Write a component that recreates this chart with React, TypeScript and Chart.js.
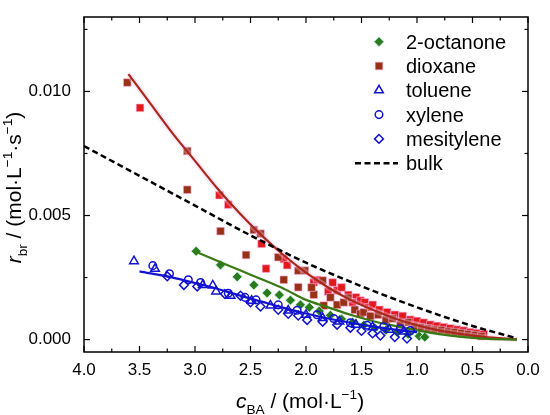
import React, { useEffect, useRef } from "react";
import { Chart, registerables } from "chart.js";
import { drawPoint } from "chart.js/helpers";

Chart.register(...registerables);

// c_BA (mol/L), r_br (mol/L/s)
const dioxaneBrown: [number, number][] = [
  [3.61, 0.01036], [3.07, 0.0076], [3.07, 0.00604], [2.77, 0.00437], [2.47, 0.00442],
  [2.41, 0.00427], [2.54, 0.00341], [2.25, 0.00332], [2.2, 0.00241], [2.07, 0.00278],
  [2.01, 0.00278], [2.07, 0.00211], [1.85, 0.00238], [1.93, 0.00181], [1.84, 0.00137],
  [1.62, 0.00168], [1.95, 0.0021], [1.78, 0.0017], [1.72, 0.0014], [1.66, 0.0015],
  [1.56, 0.0012], [1.51, 0.00104], [1.48, 0.0011], [1.42, 0.00095], [1.35, 0.001],
  [1.28, 0.0008], [1.22, 0.00085], [1.15, 0.0006], [1.08, 0.0007], [1.02, 0.00055],
  [0.96, 0.0005], [0.9, 0.00045], [0.84, 0.0004], [0.78, 0.00038], [0.72, 0.00032],
  [0.66, 0.0003], [0.6, 0.00026], [0.54, 0.00022], [0.48, 0.00018], [0.42, 0.00014],
];
const dioxaneRed: [number, number][] = [
  [3.495, 0.00934], [2.78, 0.00582], [2.7, 0.00544], [2.4, 0.00386], [2.36, 0.00286],
  [2.2, 0.00325], [2.17, 0.003], [1.93, 0.00231], [1.8, 0.00194], [1.72, 0.00198],
  [1.9, 0.0024], [1.76, 0.0023], [1.68, 0.0021], [1.62, 0.0018], [1.55, 0.0017],
  [1.58, 0.0015], [1.51, 0.00157], [1.47, 0.0015], [1.44, 0.0013], [1.4, 0.0014],
  [1.34, 0.0012], [1.27, 0.0011], [1.2, 0.001], [1.13, 0.00095], [1.06, 0.0008],
  [1.0, 0.00075], [0.94, 0.00068], [0.88, 0.0006], [0.82, 0.00055], [0.76, 0.0005],
  [0.7, 0.00045], [0.64, 0.0004], [0.58, 0.00036], [0.52, 0.0003], [0.46, 0.00026],
  [0.4, 0.00022],
];
const dioxaneFit: [number, number][] = [
  [3.6, 0.0107], [3.4, 0.0095], [3.2, 0.0083], [3.0, 0.0072], [2.8, 0.0061],
  [2.6, 0.0051], [2.4, 0.0042], [2.2, 0.0034], [2.0, 0.0027], [1.8, 0.0021],
  [1.6, 0.0016], [1.4, 0.0012], [1.2, 0.00085], [1.0, 0.00058], [0.8, 0.00037],
  [0.6, 0.00022], [0.4, 0.00011], [0.1, 0.00001],
];
const octanone: [number, number][] = [
  [2.99, 0.00356], [2.77, 0.00301], [2.62, 0.00253], [2.47, 0.0022], [2.35, 0.00188],
  [2.24, 0.0018], [2.14, 0.00159], [2.05, 0.0014], [1.97, 0.0013], [1.88, 0.00115],
  [1.78, 0.00098], [1.68, 0.00083], [1.58, 0.0007], [1.48, 0.00058], [1.38, 0.00047],
  [1.28, 0.00038], [1.18, 0.0003], [1.08, 0.00022], [0.98, 0.00014], [0.93, 0.0001],
];
const octanoneFit: [number, number][] = [
  [3.0, 0.00355], [2.8, 0.00318], [2.6, 0.0028], [2.4, 0.00243], [2.2, 0.00205],
  [2.0, 0.0016], [1.8, 0.0013], [1.6, 0.001], [1.4, 0.00075], [1.2, 0.00055],
  [1.0, 0.00037], [0.8, 0.00022], [0.6, 0.00011], [0.4, 0.00004], [0.1, 0.0],
];
const toluene: [number, number][] = [
  [3.55, 0.00316], [3.36, 0.00285], [2.93, 0.0022], [2.84, 0.00218], [2.81, 0.00194],
  [2.68, 0.00177], [2.49, 0.00157], [2.32, 0.00137], [2.16, 0.00117], [2.0, 0.001],
  [1.85, 0.00087], [1.7, 0.00073], [1.55, 0.0006], [1.4, 0.0005], [1.25, 0.0004],
  [1.12, 0.00033],
];
const xylene: [number, number][] = [
  [3.38, 0.00298], [3.23, 0.00265], [3.06, 0.00241], [2.95, 0.0023], [2.7, 0.00187],
  [2.55, 0.0017], [2.45, 0.0016], [2.25, 0.0014], [2.08, 0.00118], [1.9, 0.001],
  [1.75, 0.00085], [1.6, 0.00068], [1.45, 0.00058], [1.3, 0.00052], [1.15, 0.00043],
  [1.06, 0.00036],
];
const mesitylene: [number, number][] = [
  [3.25, 0.00255], [3.1, 0.0022], [2.98, 0.00214], [2.73, 0.00184], [2.59, 0.00177],
  [2.5, 0.0015], [2.41, 0.00133], [2.25, 0.0012], [2.16, 0.00104], [2.07, 0.00097],
  [1.99, 0.00079], [1.85, 0.00072], [1.72, 0.0006], [1.6, 0.00048], [1.5, 0.00035],
  [1.4, 0.00025], [1.33, 0.00016], [1.2, 0.0001], [1.09, 0.00004],
];
const aromaticFit: [number, number][] = [
  [3.5, 0.00275], [3.2, 0.0025], [3.0, 0.00228], [2.8, 0.00205], [2.6, 0.00178],
  [2.4, 0.00153], [2.2, 0.00128], [2.0, 0.00105], [1.8, 0.00085], [1.6, 0.00068],
  [1.4, 0.00053], [1.2, 0.0004], [1.0, 0.0003],
];
const bulk: [number, number][] = [
  [4.0, 0.0078], [3.5, 0.0066], [3.0, 0.0054], [2.5, 0.0042], [2.0, 0.0031],
  [1.5, 0.00215], [1.0, 0.0013], [0.5, 0.00055], [0.1, 0.00005],
];

const xMajor = [4.0, 3.5, 3.0, 2.5, 2.0, 1.5, 1.0, 0.5, 0.0];
const xMinor = [3.75, 3.25, 2.75, 2.25, 1.75, 1.25, 0.75, 0.25];
const yMajor = [0, 0.005, 0.01];
const yMinor = [0.0025, 0.0075, 0.0125];

const FONT = "'Liberation Sans', Arial, sans-serif";
const GREEN = "#2b7a1e";
const BROWN = "#983214";
const RED = "#e31a1c";
const BLUE = "#1212d2";
const PINK = "rgba(255,175,230,0.6)";
const MINT = "rgba(200,255,235,0.8)";
const NONE = "rgba(0,0,0,0)";
const DASH = [6, 3.5];

const pts = (a: [number, number][]) => a.map(([x, y]) => ({ x, y }));

const legendItems = [
  { label: "2-octanone", style: "rectRot", r: 5, fill: GREEN, stroke: MINT, bw: 1 },
  { label: "dioxane", style: "rect", r: 5.4, fill: BROWN, stroke: PINK, bw: 1 },
  { label: "toluene", style: "triangle", r: 5, fill: NONE, stroke: BLUE, bw: 1.5 },
  { label: "xylene", style: "circle", r: 3.8, fill: NONE, stroke: BLUE, bw: 1.5 },
  { label: "mesitylene", style: "rectRot", r: 4.4, fill: NONE, stroke: BLUE, bw: 1.5 },
  { label: "bulk", style: "dash", r: 0, fill: "", stroke: "#000", bw: 2.5 },
];

const framePlugin = {
  id: "frame",
  afterDatasetsDraw(chart: any) {
    const { ctx, chartArea: a, scales } = chart;
    const sx = scales.x, sy = scales.y;
    const line = (x1: number, y1: number, x2: number, y2: number) => {
      ctx.beginPath(); ctx.moveTo(x1, y1); ctx.lineTo(x2, y2); ctx.stroke();
    };
    ctx.save();
    ctx.strokeStyle = "#000";
    ctx.lineWidth = 1.5;
    ctx.strokeRect(a.left, a.top, a.right - a.left, a.bottom - a.top);
    ctx.lineWidth = 1.2;
    const ticksX = (vals: number[], len: number) => vals.forEach((v) => {
      const px = sx.getPixelForValue(v);
      line(px, a.bottom, px, a.bottom - len);
      line(px, a.top, px, a.top + len);
    });
    const ticksY = (vals: number[], len: number) => vals.forEach((v) => {
      const py = sy.getPixelForValue(v);
      line(a.left, py, a.left + len, py);
      line(a.right, py, a.right - len, py);
    });
    ticksX(xMajor, 6); ticksX(xMinor, 3.5);
    ticksY(yMajor, 6); ticksY(yMinor, 3.5);
    ctx.restore();
  },
};

type Run = { t: string; it?: boolean; sub?: boolean; sup?: boolean };

function drawRuns(ctx: CanvasRenderingContext2D, runs: Run[], cx: number, base: number, size: number) {
  const fontOf = (r: Run) => {
    const s = r.sub || r.sup ? size * 0.65 : size;
    return `${r.it ? "italic " : ""}${s}px ${FONT}`;
  };
  let total = 0;
  const widths = runs.map((r) => { ctx.font = fontOf(r); const w = ctx.measureText(r.t).width; total += w; return w; });
  let x = cx - total / 2;
  ctx.textAlign = "left";
  ctx.textBaseline = "alphabetic";
  runs.forEach((r, i) => {
    ctx.font = fontOf(r);
    const dy = r.sub ? size * 0.28 : r.sup ? -size * 0.42 : 0;
    ctx.fillText(r.t, x, base + dy);
    x += widths[i];
  });
}

const titlesPlugin = {
  id: "titles",
  afterDraw(chart: any) {
    const { ctx, chartArea: a } = chart;
    ctx.save();
    ctx.fillStyle = "#000";
    drawRuns(ctx, [
      { t: "c", it: true }, { t: "BA", sub: true }, { t: " / (mol·L" }, { t: "−1", sup: true }, { t: ")" },
    ], (a.left + a.right) / 2 - 6, 408, 21);
    ctx.translate(21, (a.top + a.bottom) / 2 + 3);
    ctx.rotate(-Math.PI / 2);
    drawRuns(ctx, [
      { t: "r", it: true }, { t: "br", sub: true }, { t: " / (mol·L" }, { t: "−1", sup: true },
      { t: "·s" }, { t: "−1", sup: true }, { t: ")" },
    ], 0, 0, 21);
    ctx.restore();
  },
};

const legendPlugin = {
  id: "customLegend",
  afterDraw(chart: any) {
    const { ctx } = chart;
    const mx = 379, tx = 406, y0 = 41.7, step = 24.3;
    ctx.save();
    legendItems.forEach((it, i) => {
      const y = y0 + i * step;
      if (it.style === "dash") {
        ctx.strokeStyle = it.stroke;
        ctx.lineWidth = it.bw;
        ctx.setLineDash(DASH);
        ctx.beginPath(); ctx.moveTo(355, y); ctx.lineTo(398, y); ctx.stroke();
        ctx.setLineDash([]);
      } else {
        ctx.fillStyle = it.fill;
        ctx.strokeStyle = it.stroke;
        ctx.lineWidth = it.bw;
        drawPoint(ctx, { pointStyle: it.style as any, radius: it.r, rotation: 0, borderWidth: it.bw }, mx, y);
      }
      ctx.fillStyle = "#000";
      ctx.font = `20px ${FONT}`;
      ctx.textAlign = "left";
      ctx.textBaseline = "alphabetic";
      ctx.fillText(it.label, tx, y + 7);
    });
    ctx.restore();
  },
};

export default function App() {
  const canvasRef = useRef<HTMLCanvasElement>(null);

  useEffect(() => {
    document.body.style.margin = "0";
    if (!canvasRef.current) return;
    const fit = { showLine: true, pointRadius: 0, borderWidth: 2.2, cubicInterpolationMode: "monotone" as const };
    const square = { pointStyle: "rect", pointRadius: 5.4, borderColor: PINK, borderWidth: 1 };
    const hollow = { backgroundColor: NONE, borderColor: BLUE, borderWidth: 1.5 };
    // Chart.js paints the first dataset on top
    const chart = new Chart(canvasRef.current, {
      type: "scatter",
      data: {
        datasets: [
          { label: "bulk", data: pts(bulk), ...fit, borderWidth: 2.5, borderColor: "#000", borderDash: DASH },
          { label: "aromatic fit", data: pts(aromaticFit), ...fit, borderColor: BLUE },
          { label: "mesitylene", data: pts(mesitylene), pointStyle: "rectRot", pointRadius: 4.4, ...hollow },
          { label: "xylene", data: pts(xylene), pointStyle: "circle", pointRadius: 3.8, ...hollow },
          { label: "toluene", data: pts(toluene), pointStyle: "triangle", pointRadius: 5, ...hollow },
          { label: "2-octanone fit", data: pts(octanoneFit), ...fit, borderColor: "#3a7a14" },
          { label: "2-octanone", data: pts(octanone), pointStyle: "rectRot", pointRadius: 5, backgroundColor: GREEN, borderColor: MINT, borderWidth: 1 },
          { label: "dioxane fit", data: pts(dioxaneFit), ...fit, borderColor: "#a8281a" },
          { label: "dioxane fit halo", data: pts(dioxaneFit), ...fit, borderWidth: 6, borderColor: "rgba(255,195,238,0.35)" },
          { label: "dioxane", data: pts(dioxaneBrown), ...square, backgroundColor: BROWN },
          { label: "dioxane (2)", data: pts(dioxaneRed), ...square, backgroundColor: RED },
        ] as any,
      },
      options: {
        animation: false,
        responsive: false,
        events: [],
        layout: { padding: { top: 17, right: 22, left: 0, bottom: 0 } },
        plugins: { legend: { display: false }, tooltip: { enabled: false } },
        scales: {
          x: {
            type: "linear", min: 0, max: 4, reverse: true,
            grid: { display: false }, border: { display: false },
            ticks: { padding: 0, color: "#000", font: { family: FONT, size: 17 }, callback: (v: any) => Number(v).toFixed(1) },
            afterBuildTicks: (s: any) => { s.ticks = xMajor.map((value) => ({ value })); },
            afterFit: (s: any) => { s.height = 63; },
          },
          y: {
            type: "linear", min: -0.0005, max: 0.013,
            grid: { display: false }, border: { display: false },
            ticks: { padding: 5, color: "#000", font: { family: FONT, size: 17 }, callback: (v: any) => Number(v).toFixed(3) },
            afterBuildTicks: (s: any) => { s.ticks = yMajor.map((value) => ({ value })); },
            afterFit: (s: any) => { s.width = 84; },
          },
        },
      },
      plugins: [framePlugin, titlesPlugin, legendPlugin],
    });
    return () => chart.destroy();
  }, []);

  return (
    <div style={{ width: 550, height: 415, background: "#fff" }}>
      <canvas ref={canvasRef} width={550} height={415} style={{ width: 550, height: 415 }} />
    </div>
  );
}
